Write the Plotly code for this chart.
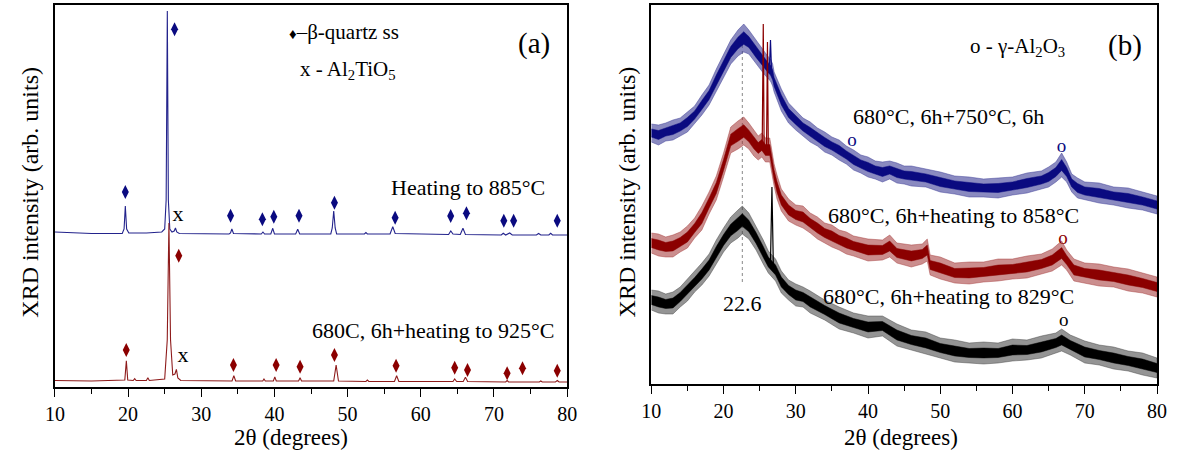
import plotly.graph_objects as go

W, H = 1185, 456
FONT = "Liberation Serif, Times New Roman, serif"

# ---------------- tick labels ----------------
major_ticks = [10, 20, 30, 40, 50, 60, 70, 80]
minor_ticks = [15, 25, 35, 45, 55, 65, 75]

# ---------------- panel (a) ----------------
a_blue_x = [10.0, 15.0, 19.2, 19.45, 19.62, 19.8, 20.1, 22.5, 24.6, 25.0, 25.2, 25.36, 25.5, 25.7, 26.0, 26.3,
            26.47, 26.65, 27.0, 30.0, 33.8, 34.0, 34.18, 34.4, 38.2, 38.43, 38.65, 39.5, 39.77, 40.0, 42.9, 43.18,
            43.45, 47.7, 47.9, 48.1, 48.3, 48.5, 52.3, 52.5, 52.7, 55.8, 56.0, 56.17, 56.5, 63.8, 64.1, 64.4, 65.4,
            65.76, 66.1, 71.0, 71.27, 71.6, 72.15, 72.5, 75.8, 76.1, 76.4, 77.5, 77.75, 78.0, 80.0]
a_blue_y = [155, 153.5, 153.5, 158, 181, 158, 154, 154, 155, 158, 187, 376, 187, 158, 155, 156, 159, 155, 153.5,
            153, 153, 154, 158, 153.5, 153, 155, 153, 153, 158.7, 153, 153, 157.7, 153, 153, 159, 176, 159, 153,
            153, 154.5, 153, 153, 157, 160.3, 153.5, 152.5, 156, 153, 152.5, 158.7, 152.5, 152, 153.7, 152, 154,
            152, 152, 153.5, 152, 152, 153.7, 152, 152]

a_red_x = [10.0, 15.0, 19.55, 19.76, 19.95, 20.7, 20.9, 21.1, 22.5, 22.7, 22.9, 25.0, 25.35, 25.58, 25.8, 26.1,
           26.4, 26.6, 26.8, 27.2, 34.2, 34.45, 34.7, 38.4, 38.57, 38.75, 39.85, 40.05, 40.25, 43.3, 43.5, 43.7,
           48.1, 48.43, 48.75, 52.5, 52.7, 52.9, 56.4, 56.7, 57.0, 64.4, 64.63, 64.9, 65.8, 66.1, 66.4, 71.6,
           71.8, 72.0, 76.2, 76.4, 76.6, 78.4, 78.66, 78.9, 80.0]
a_red_y = [6.5, 6, 7, 26.3, 7, 6.5, 8.3, 6.5, 6.5, 9.3, 6.5, 8, 47, 164, 47, 12, 13, 17.7, 9, 6.5, 6, 11.3, 6, 6,
           8, 6, 6, 10, 6, 6, 9.3, 6, 6, 22, 6, 5.5, 7, 5.5, 5.5, 11.3, 5.5, 5.5, 8, 5.5, 5.5, 9.7, 5.5, 5, 6.5,
           5, 5, 6, 5, 5, 6.5, 5, 5]

# beta-quartz ss markers
a_blue_dia_x = [19.62, 26.35, 34.0, 38.35, 39.91, 43.36, 48.2, 56.49, 64.09, 66.24, 71.35, 72.69, 78.65]
a_blue_dia_y = [195, 357.7, 171.3, 167.7, 170.3, 171.3, 184.3, 169.3, 171, 173.7, 166.3, 166.3, 166.3]
a_red_dia_x = [19.75, 26.92, 34.4, 40.23, 43.5, 48.2, 56.62, 64.63, 66.38, 71.8, 73.9, 78.65]
a_red_dia_y = [37, 131.3, 22, 22, 20.3, 32, 21.3, 19.3, 17, 13.7, 18.7, 16.3]
# Al2TiO5 markers
a_x_mark_x = [26.83, 27.5]
a_x_mark_y = [172, 31]

# ---------------- panel (b) ----------------
b_blue_x = [10, 11, 12, 13, 14, 15, 16, 17, 18, 19, 20, 21, 22, 22.8, 23.5, 24.5, 25.5, 26.2, 26.5, 26.8, 27, 28,
            29, 30, 31, 32, 33, 34, 35, 36, 37, 38, 39, 40, 41, 42, 43, 44, 45, 46, 48, 50, 52, 54, 56, 58, 60, 62,
            64, 65, 66, 66.8, 67.5, 68.2, 69, 70, 72, 74, 76, 78, 80]
b_blue_c = [251, 249, 252, 254, 257, 262, 269, 279, 289, 304, 318, 332, 341, 346, 342, 332, 322, 316, 314, 309,
            302, 284, 271, 264, 257, 252, 247, 242, 238, 234, 229, 224, 220, 217, 214, 212, 214, 211, 209, 208,
            206, 202, 199, 197, 196, 196, 198, 201, 204, 207, 212, 219, 212, 201, 196, 193, 191, 188, 186, 183, 179]
b_blue_s = [9, 10, 9, 10, 9, 10, 9, 10, 10, 11, 12, 12, 13, 14, 12, 12, 11, 11, 11, 11,
            10, 11, 10, 10, 9, 10, 9, 10, 9, 10, 9, 10, 9, 10, 9, 10, 9, 10, 9, 10,
            9, 10, 9, 10, 9, 10, 9, 10, 9, 10, 10, 12, 10, 9, 10, 9, 10, 9, 10, 9, 9]

b_red_x = [10, 11, 12, 13, 14, 15, 16, 17, 18, 19, 20, 21, 22, 22.8, 23.5, 24.2, 24.8, 25.3, 25.8, 26.4, 27, 27.4,
           28, 29, 30, 31, 32, 33, 34, 35, 36, 37, 38, 40, 42, 43, 44, 46, 47.5, 48.2, 48.6, 50, 52, 54, 56, 58,
           60, 62, 64, 65.5, 66.8, 67.5, 68.5, 70, 72, 74, 76, 78, 80]
b_red_c = [141, 139, 137, 138, 142, 147, 156, 166, 181, 196, 219, 244, 249, 253, 248, 241, 236, 239, 234, 234,
           209, 197, 184, 174, 169, 167, 161, 156, 151, 148, 144, 141, 138, 134, 134, 138, 131, 128, 130, 134,
           119, 116, 111, 111, 112, 114, 115, 117, 120, 124, 131, 124, 114, 111, 109, 107, 104, 101, 97]
b_red_s = [10, 11, 10, 11, 10, 11, 10, 12, 11, 12, 12, 13, 14, 14, 13, 13, 12, 12, 12, 12,
           11, 12, 11, 11, 10, 11, 10, 11, 10, 11, 10, 11, 10, 11, 10, 11, 10, 11, 10, 11,
           10, 11, 10, 11, 10, 11, 10, 11, 10, 11, 12, 10, 11, 10, 11, 10, 11, 10, 10]

b_black_x = [10, 11, 12, 13, 14, 15, 16, 17, 18, 19, 20, 21, 22, 22.6, 23.5, 24.5, 25.5, 26.2, 27.2, 28, 29, 30,
             31, 32, 34, 36, 38, 40, 42, 44, 46, 48, 50, 52, 54, 56, 58, 60, 62, 64, 66, 66.8, 68, 70, 72, 74, 76,
             78, 80]
b_black_c = [84, 82, 80, 81, 87, 94, 102, 110, 119, 132, 144, 154, 160, 164, 158, 146, 132, 122, 114, 102,
             94, 89, 87, 82, 74, 66, 61, 57, 58, 49, 44, 41, 36, 33, 31, 31, 31, 34, 34, 37,
             41, 44, 39, 32, 29, 26, 23, 20, 16]
b_black_s = [10, 11, 10, 11, 10, 11, 10, 11, 11, 12, 12, 13, 14, 14, 13, 12, 12, 11, 11, 11,
             10, 11, 10, 11, 10, 11, 10, 11, 10, 11, 10, 11, 10, 11, 10, 11, 10, 11, 10, 11,
             10, 11, 10, 11, 10, 11, 10, 11, 10]

# sharp crystalline spikes on top of the amorphous hump
b_blue_spike_x = [26.35, 26.5, 26.65]
b_blue_spike_y = [316, 344, 312]
b_red_spike_x = [25.35, 25.5, 25.62, 25.95, 26.08, 26.2]
b_red_spike_y = [238, 360, 236, 235, 342, 234]
b_black_spike_x = [26.5, 26.7, 26.9]
b_black_spike_y = [122, 197, 116]

# gamma-Al2O3 markers
b_o_x = [37.78, 66.78, 67.0, 67.09]
b_o_y = [243, 236.7, 145, 63]
b_o_col = ["#0a0a80", "#0a0a80", "#8b0000", "#000000"]

# amorphous hump position
hump_x = 22.6
hump_y = [102, 339]

BLUE = "#0a0a80"
RED = "#8b0000"

fig = go.Figure()

# ---- panel (a) traces
fig.add_trace(go.Scatter(x=a_blue_x, y=a_blue_y, mode="lines", line=dict(color="#23238c", width=1.1),
                         xaxis="x", yaxis="y", hoverinfo="skip"))
fig.add_trace(go.Scatter(x=a_red_x, y=a_red_y, mode="lines", line=dict(color="#8e1b1b", width=1.1),
                         xaxis="x", yaxis="y", hoverinfo="skip"))
fig.add_trace(go.Scatter(x=a_blue_dia_x, y=a_blue_dia_y, mode="markers",
                         marker=dict(symbol="diamond-tall", size=10, color=BLUE), xaxis="x", yaxis="y"))
fig.add_trace(go.Scatter(x=a_red_dia_x, y=a_red_dia_y, mode="markers",
                         marker=dict(symbol="diamond-tall", size=10, color=RED), xaxis="x", yaxis="y"))
fig.add_trace(go.Scatter(x=a_x_mark_x, y=a_x_mark_y, mode="text", text=["x", "x"],
                         textfont=dict(family=FONT, size=22, color="black"), xaxis="x", yaxis="y"))


# ---- panel (b) bands
def band(x, c, s, col_out, col_in):
    hi = [ci + si for ci, si in zip(c, s)]
    lo = [ci - si for ci, si in zip(c, s)]
    fig.add_trace(go.Scatter(x=x + x[::-1], y=hi + lo[::-1], mode="lines", fill="toself",
                             fillcolor=col_out, line=dict(color=col_out, width=0.8),
                             xaxis="x2", yaxis="y2", hoverinfo="skip"))
    hi2 = [ci + 0.45 * si for ci, si in zip(c, s)]
    lo2 = [ci - 0.45 * si for ci, si in zip(c, s)]
    fig.add_trace(go.Scatter(x=x + x[::-1], y=hi2 + lo2[::-1], mode="lines", fill="toself",
                             fillcolor=col_in, line=dict(color=col_in, width=0.5),
                             xaxis="x2", yaxis="y2", hoverinfo="skip"))


fig.add_trace(go.Scatter(x=[hump_x, hump_x], y=hump_y, mode="lines",
                         line=dict(color="#888888", width=1, dash="dot"), xaxis="x2", yaxis="y2"))
band(b_blue_x, b_blue_c, b_blue_s, "rgba(60,60,150,0.6)", BLUE)
fig.add_trace(go.Scatter(x=b_blue_spike_x, y=b_blue_spike_y, mode="lines", line=dict(color=BLUE, width=1.2),
                         xaxis="x2", yaxis="y2"))
band(b_red_x, b_red_c, b_red_s, "rgba(160,50,50,0.55)", RED)
fig.add_trace(go.Scatter(x=b_red_spike_x, y=b_red_spike_y, mode="lines", line=dict(color=RED, width=1.2),
                         xaxis="x2", yaxis="y2"))
band(b_black_x, b_black_c, b_black_s, "rgba(60,60,60,0.55)", "#000000")
fig.add_trace(go.Scatter(x=b_black_spike_x, y=b_black_spike_y, mode="lines", line=dict(color="black", width=1.2),
                         xaxis="x2", yaxis="y2"))
fig.add_trace(go.Scatter(x=b_o_x, y=b_o_y, mode="text", text=["o"] * len(b_o_x),
                         textfont=dict(family=FONT, size=19, color=b_o_col), xaxis="x2", yaxis="y2"))


def xax(domain):
    return dict(domain=domain, range=[10, 80], tickmode="array", tickvals=major_ticks,
                ticktext=[str(t) for t in major_ticks], ticks="outside", ticklen=8, tickwidth=1.3,
                tickcolor="black", minor=dict(tickmode="array", tickvals=minor_ticks, ticks="outside",
                                              ticklen=5, tickwidth=1.3, tickcolor="black"),
                showline=True, linecolor="black", linewidth=1.5, mirror=True, showgrid=False,
                zeroline=False, tickfont=dict(family=FONT, size=20, color="black"), fixedrange=True)


def yax(domain, rng, anchor):
    return dict(domain=domain, range=rng, showticklabels=False, ticks="", showline=True,
                linecolor="black", linewidth=1.5, mirror=True, showgrid=False, zeroline=False,
                anchor=anchor, fixedrange=True)


def px(xp, yp):
    return xp / W, 1 - yp / H


ann = []


def text(s, xp, yp, size=22, color="black", angle=0):
    x, y = px(xp, yp)
    ann.append(dict(text=s, x=x, y=y, xref="paper", yref="paper", showarrow=False, xanchor="center",
                    yanchor="middle", textangle=angle, font=dict(family=FONT, size=size, color=color)))


text('<span style="font-size:15px">♦</span>–β-quartz ss', 340, 32, size=21)
text("x - Al<sub>2</sub>TiO<sub>5</sub>", 344, 70, size=21)
text("(a)", 533, 43, size=29)
text("Heating to 885°C", 466, 187)
text("680C, 6h+heating to 925°C", 430, 330)
text("o - γ-Al<sub>2</sub>O<sub>3</sub>", 1025, 47, size=21)
text("(b)", 1134, 45, size=29)
text("680°C, 6h+750°C, 6h", 955, 116)
text("680°C, 6h+heating to 858°C", 960, 215)
text("680°C, 6h+heating to 829°C", 955, 296)
text("22.6", 745, 303)
text("2θ (degrees)", 286, 437, size=23)
text("2θ (degrees)", 906, 437, size=23)
text("XRD intensity (arb. units)", 20, 192, size=24, angle=-90)
text("XRD intensity (arb. units)", 628, 192, size=24, angle=-90)

fig.update_layout(
    width=W, height=H, autosize=False, margin=dict(l=0, r=0, t=0, b=0),
    paper_bgcolor="white", plot_bgcolor="white", showlegend=False,
    xaxis=xax([45.7 / W, 566.7 / W]),
    yaxis=yax([1 - 387 / H, 1 - 5 / H], [0, 382], "x"),
    xaxis2=xax([652.3 / W, 1166.7 / W]),
    yaxis2=yax([1 - 384 / H, 1 - 5 / H], [0, 379], "x2"),
    annotations=ann,
)
fig.layout.xaxis2.anchor = "y2"
fig.layout.xaxis.anchor = "y"

fig.write_html("out.html", config={"displayModeBar": False},
               post_script="document.body.style.margin='0';")
